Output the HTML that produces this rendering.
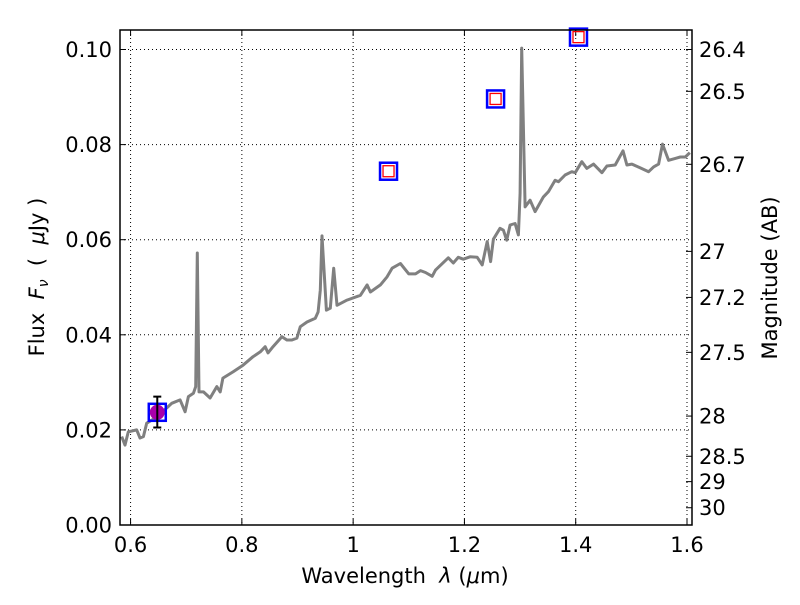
<!DOCTYPE html>
<html><head><meta charset="utf-8"><style>
body{margin:0;background:#fff;}
svg{font-family:"DejaVu Sans","Liberation Sans",sans-serif;}
</style></head><body>
<svg id="chart" width="800" height="600" xmlns="http://www.w3.org/2000/svg">
<defs><clipPath id="clip"><rect x="120" y="30" width="572" height="495"/></clipPath></defs>
<g id="grid"></g>
<g id="series" clip-path="url(#clip)"></g>
<g id="axes"></g>
<text x="405" y="583" text-anchor="middle" font-size="21">Wavelength&#160;&#160;<tspan font-style="italic">λ</tspan>&#160;(<tspan font-style="italic">μ</tspan>m)</text>
<text transform="translate(44,277) rotate(-90)" text-anchor="middle" font-size="21">Flux&#160;&#160;<tspan font-style="italic">F</tspan><tspan font-style="italic" font-size="14" dy="4">ν</tspan><tspan dy="-4">&#160;&#160;(&#160;&#160;</tspan><tspan font-style="italic">μ</tspan>Jy&#160;)</text>
<text transform="translate(777,278) rotate(-90)" text-anchor="middle" font-size="21">Magnitude (AB)</text>
</svg>
<script>
const specWave=[0.584,0.590,0.596,0.611,0.617,0.623,0.629,0.644,0.665,0.674,0.689,0.698,0.704,0.713,0.717,0.720,0.723,0.731,0.743,0.755,0.761,0.766,0.784,0.802,0.820,0.833,0.842,0.847,0.856,0.872,0.881,0.890,0.899,0.905,0.917,0.932,0.937,0.941,0.944,0.952,0.959,0.965,0.971,0.989,1.013,1.025,1.031,1.049,1.061,1.070,1.085,1.100,1.112,1.121,1.130,1.142,1.148,1.171,1.180,1.189,1.198,1.210,1.223,1.232,1.241,1.247,1.252,1.264,1.270,1.276,1.282,1.291,1.297,1.300,1.303,1.309,1.318,1.327,1.342,1.351,1.363,1.369,1.381,1.393,1.399,1.411,1.420,1.432,1.447,1.456,1.471,1.485,1.492,1.501,1.516,1.531,1.540,1.549,1.556,1.567,1.579,1.588,1.597,1.605];
const specFlux=[0.0186,0.0168,0.0196,0.0200,0.0183,0.0186,0.0214,0.0225,0.0246,0.0256,0.0263,0.0238,0.0270,0.0277,0.0291,0.0572,0.0280,0.0280,0.0267,0.0291,0.0280,0.0309,0.0322,0.0336,0.0354,0.0364,0.0375,0.0362,0.0375,0.0396,0.0389,0.0389,0.0393,0.0417,0.0427,0.0435,0.0448,0.0494,0.0608,0.0452,0.0456,0.0540,0.0462,0.0473,0.0483,0.0505,0.0490,0.0505,0.0522,0.0540,0.0550,0.0528,0.0528,0.0535,0.0531,0.0523,0.0536,0.0562,0.0551,0.0563,0.0559,0.0564,0.0563,0.0547,0.0596,0.0554,0.0601,0.0624,0.0620,0.0599,0.0631,0.0634,0.0610,0.0698,0.1003,0.0669,0.0683,0.0659,0.0690,0.0701,0.0725,0.0722,0.0736,0.0743,0.0741,0.0764,0.0750,0.0759,0.0741,0.0755,0.0757,0.0787,0.0757,0.0759,0.0751,0.0743,0.0753,0.0759,0.0801,0.0767,0.0771,0.0774,0.0774,0.0783];
const photWave=[0.648,1.0636,1.256,1.405];
const photFlux=[0.0237,0.0744,0.0896,0.1026];
const errLow=[0.0205];
const errHigh=[0.0270];
const xTicks=[0.6,0.8,1.0,1.2,1.4,1.6];
const xTickLabels=["0.6","0.8","1","1.2","1.4","1.6"];
const yTicks=[0,0.02,0.04,0.06,0.08,0.10];
const yTickLabels=["0.00","0.02","0.04","0.06","0.08","0.10"];
const magTicks=[26.4,26.5,26.7,27,27.2,27.5,28,28.5,29,30];
const magTickLabels=["26.4","26.5","26.7","27","27.2","27.5","28","28.5","29","30"];

const L=120,R=692,T=30,B=525;
const xmin=0.581,xmax=1.609,ymin=0,ymax=0.1041;
const X=v=>L+(v-xmin)/(xmax-xmin)*(R-L);
const Y=v=>B-(v-ymin)/(ymax-ymin)*(B-T);
const NS="http://www.w3.org/2000/svg";
function mk(tag,attrs,parent){const e=document.createElementNS(NS,tag);for(const k in attrs)e.setAttribute(k,attrs[k]);parent.appendChild(e);return e;}
const grid=document.getElementById('grid'),series=document.getElementById('series'),axes=document.getElementById('axes');

xTicks.forEach((v,i)=>{
 const g=mk('line',{x1:X(v),x2:X(v),y1:T,y2:B,stroke:'#000','stroke-width':1,'stroke-dasharray':'1,3'},grid);
 
 
 const t1=mk('line',{x1:X(v),x2:X(v),y1:B,y2:B-6,stroke:'#000'},axes);
 
 
 const t2=mk('line',{x1:X(v),x2:X(v),y1:T,y2:T+6,stroke:'#000'},axes);
 
 
 const lb=mk('text',{x:X(v),y:552,'text-anchor':'middle','font-size':21},axes);
 lb.textContent=xTickLabels[i];
 
 
});
yTicks.forEach((v,i)=>{
 const g=mk('line',{x1:L,x2:R,y1:Y(v),y2:Y(v),stroke:'#000','stroke-width':1,'stroke-dasharray':'1,3'},grid);
 
 
 const t=mk('line',{x1:L,x2:L+6,y1:Y(v),y2:Y(v),stroke:'#000'},axes);
 
 
 const lb=mk('text',{x:112,y:Y(v)+7.5,'text-anchor':'end','font-size':21},axes);
 lb.textContent=yTickLabels[i];
 
 
});
magTicks.forEach((m,i)=>{
 const f=Math.pow(10,(23.9-m)/2.5);
 const t=mk('line',{x1:R,x2:R-6,y1:Y(f),y2:Y(f),stroke:'#000'},axes);
 
 
 const lb=mk('text',{x:699,y:Y(f)+7.5,'font-size':21},axes);
 lb.textContent=magTickLabels[i];
 
 
});

const pts=specWave.map((w,i)=>X(w).toFixed(1)+','+Y(specFlux[i]).toFixed(1)).join(' ');
const sp=mk('polyline',{points:pts,fill:'none',stroke:'#808080','stroke-width':3,'stroke-linejoin':'round'},series);



photWave.forEach((w,i)=>{
 const cx=X(w),cy=Y(photFlux[i]);
 const o=mk('rect',{x:cx-8.5,y:cy-8.5,width:17,height:17,fill:'none',stroke:'#0000ff','stroke-width':2.5},axes);
 
 
 if(i===0){
  const c=mk('circle',{cx:cx,cy:cy,r:7.5,fill:'#aa00aa'},axes);
  
  
  const eb=mk('path',{d:`M${cx},${Y(errLow[0])}V${Y(errHigh[0])}M${cx-4},${Y(errLow[0])}H${cx+4}M${cx-4},${Y(errHigh[0])}H${cx+4}`,stroke:'#000','stroke-width':2,fill:'none'},axes);
  
  
 } else {
  const r=mk('rect',{x:cx-5.5,y:cy-5.5,width:11,height:11,fill:'none',stroke:'#ff0000','stroke-width':1.3},axes);
  
  
 }
});
const fr=mk('rect',{x:L,y:T,width:R-L,height:B-T,fill:'none',stroke:'#000','stroke-width':1.5},axes);


</script>
</body></html>
